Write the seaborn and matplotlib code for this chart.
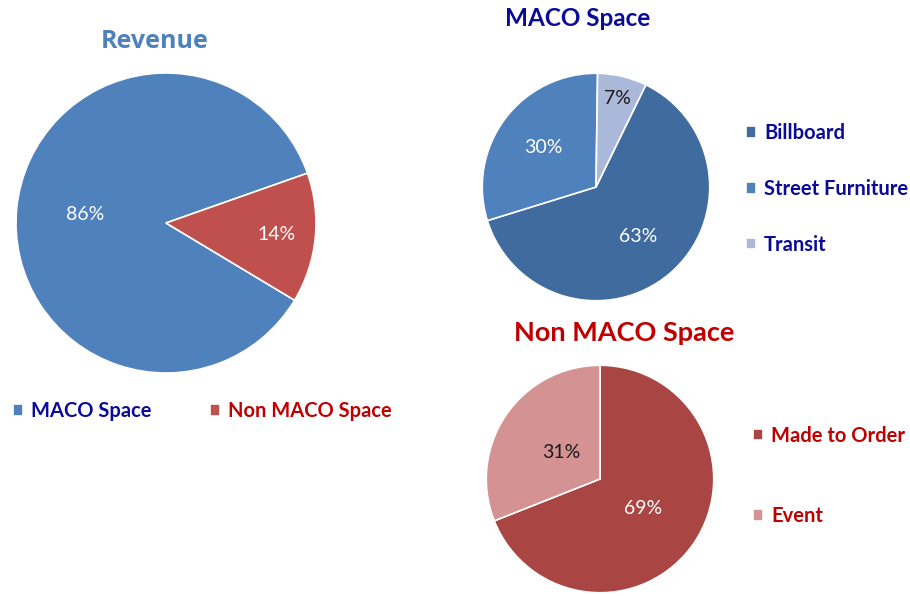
import numpy as np
import seaborn as sns
import matplotlib.pyplot as plt

# Данные
revenue_labels = ["MACO Space", "Non MACO Space"]
revenue_values = [86, 14]
maco_labels = ["Billboard", "Street Furniture", "Transit"]
maco_values = [63, 30, 7]
non_maco_labels = ["Made to Order", "Event"]
non_maco_values = [69, 31]

sns.set_theme(style="white")
plt.rcParams["font.family"] = ["Lato", "DejaVu Sans"]

W, H = 910, 596
fig = plt.figure(figsize=(W / 100, H / 100), dpi=100)

NAVY = "#0B0B99"
DARK_RED = "#C00000"
bold_font = {"weight": "bold", "size": 14.5}


def px_axes(cx, cy, r):
    # оси в пикселях: центр и радиус круга
    return fig.add_axes([(cx - r) / W, (H - cy - r) / H, 2 * r / W, 2 * r / H])


def draw_pie(ax, values, colors, startangle, dists, txt_colors):
    wedges, _, autotexts = ax.pie(values, colors=colors, startangle=startangle,
                                  counterclock=False, radius=1,
                                  autopct=lambda p: f"{p:.0f}%",
                                  wedgeprops={"edgecolor": "white", "linewidth": 1.2},
                                  textprops={"fontsize": 14})
    for w, t, d, c in zip(wedges, autotexts, dists, txt_colors):
        mid = np.deg2rad((w.theta1 + w.theta2) / 2)
        t.set_position((d * np.cos(mid), d * np.sin(mid)))
        t.set_color(c)
    ax.set_xlim(-1.02, 1.02)
    ax.set_ylim(-1.02, 1.02)
    ax.set_aspect("equal")
    ax.axis("off")
    return wedges


def add_legend(handles, labels, x, y, color, **kw):
    fig.legend(handles, labels, loc="center left",
               bbox_to_anchor=(x / W, 1 - y / H), frameon=False,
               handlelength=0.5, handleheight=0.5, handletextpad=0.4,
               prop=bold_font, labelcolor=color, **kw)


# === Revenue ===
ax1 = px_axes(166, 223, 153)
w1 = draw_pie(ax1, revenue_values, ["#4F81BD", "#C0504D"], -31,
              [0.54, 0.74], ["white", "white"])
fig.text(155 / W, 1 - 42 / H, "Revenue", ha="center", va="center",
         fontsize=18, fontweight="bold", color="#4F81BD", family=["Open Sans"])
add_legend(w1, revenue_labels, -5, 411, [NAVY, DARK_RED], ncol=2, columnspacing=2.9)

# === MACO Space ===
ax2 = px_axes(596, 187, 116)
w2 = draw_pie(ax2, maco_values, ["#3F6B9E", "#4F81BD", "#AAB9D9"], 64,
              [0.57, 0.58, 0.80], ["white", "white", "#1a1a1a"])
fig.text(578 / W, 1 - 18 / H, "MACO Space", ha="center", va="center",
         fontsize=17.5, fontweight="bold", color=NAVY)
add_legend(w2, maco_labels, 728, 189, NAVY, labelspacing=1.78)

# === Non MACO Space ===
ax3 = px_axes(600, 479, 116)
w3 = draw_pie(ax3, non_maco_values, ["#A94543", "#D49392"], 90,
              [0.46, 0.41], ["white", "#1a1a1a"])
fig.text(624 / W, 1 - 333 / H, "Non MACO Space", ha="center", va="center",
         fontsize=19.5, fontweight="bold", color=DARK_RED)
add_legend(w3, non_maco_labels, 735, 476, DARK_RED, labelspacing=3.0)

fig.savefig("out.png", dpi=100)
